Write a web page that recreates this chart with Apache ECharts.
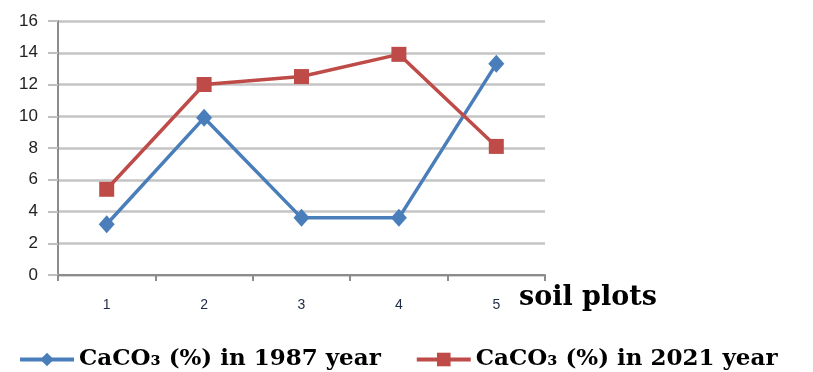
<!DOCTYPE html>
<html><head><meta charset="utf-8">
<script src="https://cdn.jsdelivr.net/npm/echarts@6/dist/echarts.min.js"></script>
<style>html,body{margin:0;padding:0;background:#fff}#c{width:813px;height:372px}</style>
</head><body><div id="c"></div>
<script>
const categories = ['1','2','3','4','5'];
const series1987 = [3.2, 9.9, 3.6, 3.6, 13.3];
const series2021 = [5.4, 12.0, 12.5, 13.9, 8.1];
const name1987 = 'CaCO₃ (%) in 1987 year';
const name2021 = 'CaCO₃ (%) in 2021 year';
const xTitle = 'soil plots';

const chart = echarts.init(document.getElementById('c'), null, {renderer:'canvas'});
chart.setOption({
  animation:false,
  backgroundColor:'#fff',
  title:{
    text:xTitle, left:519, top:284, padding:0,
    textStyle:{fontFamily:'DejaVu Serif, serif', fontWeight:'bold', fontSize:27, color:'#000'}
  },
  grid:{left:58, right:268, top:21, bottom:97, containLabel:false},
  legend:{
    left:18, bottom:1, padding:0, itemWidth:54, itemHeight:17, itemGap:34,
    lineStyle:{width:4},
    textStyle:{fontFamily:'DejaVu Serif, serif', fontWeight:'bold', fontSize:23, color:'#000'},
    data:[name1987, name2021]
  },
  xAxis:{
    type:'category', data:categories, boundaryGap:true,
    axisLine:{lineStyle:{color:'#8c8c8c', width:2}},
    axisTick:{show:true, length:6, inside:false, lineStyle:{color:'#8c8c8c', width:2}},
    axisLabel:{color:'#1f2a44', fontSize:14, fontFamily:'Liberation Sans, Arial, sans-serif', margin:23},
    splitLine:{show:false}
  },
  yAxis:{
    type:'value', min:0, max:16, interval:2,
    axisLine:{show:true, lineStyle:{color:'#8c8c8c', width:2}},
    axisTick:{show:true, length:10, lineStyle:{color:'#bfbfbf', width:2}},
    axisLabel:{color:'#222222', fontSize:17, fontFamily:'Liberation Sans, Arial, sans-serif', margin:20},
    splitLine:{show:true, lineStyle:{color:'#c4c4c4', width:2.5}}
  },
  series:[
    {name:name1987, type:'line', data:series1987, symbol:'diamond', symbolSize:[16,18],
     itemStyle:{color:'#4a7ebb'}, lineStyle:{color:'#4a7ebb', width:3.5}},
    {name:name2021, type:'line', data:series2021, symbol:'rect', symbolSize:15,
     itemStyle:{color:'#be4b48'}, lineStyle:{color:'#be4b48', width:3.5}}
  ]
});
</script></body></html>
